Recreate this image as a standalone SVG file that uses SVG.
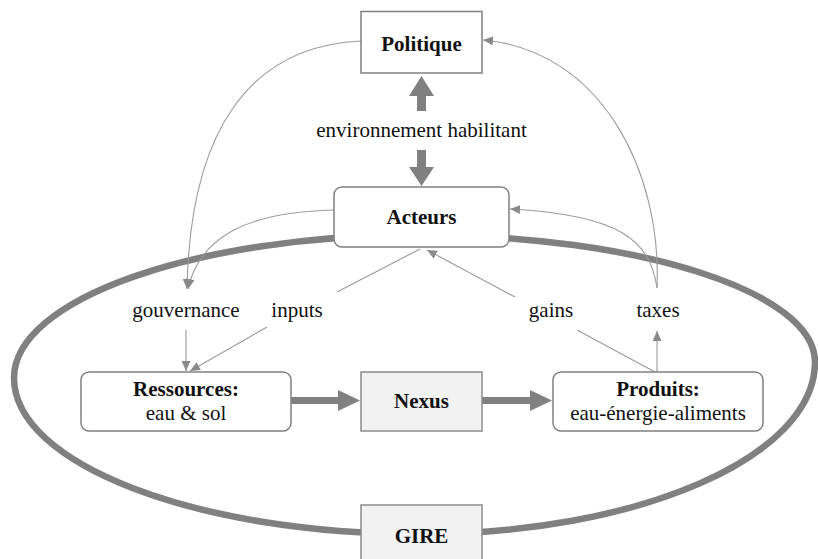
<svg xmlns="http://www.w3.org/2000/svg" width="818" height="559" viewBox="0 0 818 559">
<defs>
<style>
.box{fill:#ffffff;stroke:#808080;stroke-width:1.5}
.grey{fill:#f2f2f2;stroke:#8c8c8c;stroke-width:1.5}
.t{font-family:"Liberation Serif","Times New Roman",serif;font-size:21px;fill:#111;text-anchor:middle}
.b{font-weight:bold}
.thin{fill:none;stroke:#9a9a9a;stroke-width:1.1}
.thick{fill:#808080;stroke:none}
</style>
<marker id="ah" markerUnits="userSpaceOnUse" markerWidth="11" markerHeight="9" refX="10" refY="4.5" orient="auto">
<path d="M0,0 L10,4.5 L0,9 z" fill="#8a8a8a"/>
</marker>
</defs>
<rect width="818" height="559" fill="#ffffff"/>

<g id="gire-ring">
<path d="M14,378 C14,299 196,235 420,235 C638,235 815,292 815,362 C815,457 638,534 420,534 C196,534 14,464 14,378 Z" fill="none" stroke="#808080" stroke-width="6.5"/>
</g>

<g id="connectors">
<path class="thin" d="M361,41 C250,46 190,130 187,289" marker-end="url(#ah)"/>
<path class="thin" d="M334,210 C250,212 200,235 188,289" marker-end="url(#ah)"/>
<path class="thin" d="M186,330 L186,371" marker-end="url(#ah)"/>
<path class="thin" d="M420,249 L337,292"/>
<path class="thin" d="M267,327 L190,371" marker-end="url(#ah)"/>
<path class="thin" d="M655,372 L577,330"/>
<path class="thin" d="M515,297 L427,250" marker-end="url(#ah)"/>
<path class="thin" d="M657,372 L657,331" marker-end="url(#ah)"/>
<path class="thin" d="M657,288 C662,170 600,50 483,40" marker-end="url(#ah)"/>
<path class="thin" d="M657,288 C650,240 620,215 510,209" marker-end="url(#ah)"/>
<path class="thick" d="M417,111 L426,111 L426,96 L434,96 L421.5,76 L409,96 L417,96 Z"/>
<path class="thick" d="M417,150 L426,150 L426,167 L434,167 L421.5,186 L409,167 L417,167 Z"/>
<path class="thick" d="M291,397 L338,397 L338,390 L360,400.5 L338,411 L338,404 L291,404 Z"/>
<path class="thick" d="M482,397 L530,397 L530,390 L552,400.5 L530,411 L530,404 L482,404 Z"/>
</g>

<g id="politique">
<rect class="box" x="361" y="11.5" width="121" height="61.5"/>
<text class="t b" x="421.5" y="51">Politique</text>
</g>

<g id="label-environnement">
<text class="t" x="421.5" y="137">environnement habilitant</text>
</g>

<g id="acteurs">
<rect class="box" x="334" y="187" width="175" height="60" rx="8"/>
<text class="t b" x="421.5" y="224">Acteurs</text>
</g>

<g id="label-gouvernance"><text class="t" x="186" y="317">gouvernance</text></g>
<g id="label-inputs"><text class="t" x="297" y="317">inputs</text></g>
<g id="label-gains"><text class="t" x="551" y="317">gains</text></g>
<g id="label-taxes"><text class="t" x="658" y="317">taxes</text></g>

<g id="ressources">
<rect class="box" x="81" y="372" width="210" height="59" rx="8"/>
<text class="t b" x="186" y="396">Ressources:</text>
<text class="t" x="186" y="420">eau &amp; sol</text>
</g>

<g id="nexus">
<rect class="grey" x="361" y="372" width="121" height="59"/>
<text class="t b" x="421.5" y="408">Nexus</text>
</g>

<g id="produits">
<rect class="box" x="553" y="372" width="210" height="59" rx="8"/>
<text class="t b" x="658" y="396">Produits:</text>
<text class="t" x="658" y="420">eau-énergie-aliments</text>
</g>

<g id="gire">
<rect class="grey" x="361" y="505" width="121" height="56"/>
<text class="t b" x="421.5" y="543">GIRE</text>
</g>
</svg>
